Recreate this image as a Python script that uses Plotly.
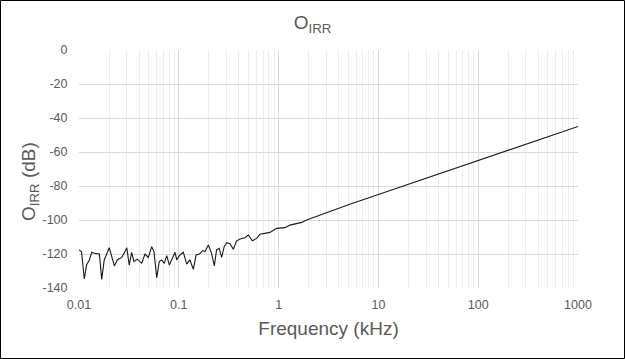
import plotly.graph_objects as go

freq_khz = [0.01, 0.0106, 0.0113, 0.0119, 0.0127, 0.0134, 0.0142, 0.0150, 0.0160, 0.0169,
            0.0179, 0.0201, 0.0226, 0.0242, 0.0268, 0.0289, 0.0301, 0.0319, 0.0337, 0.0355,
            0.0384, 0.0425, 0.0458, 0.0495, 0.0535, 0.0564, 0.0601, 0.0637, 0.0673, 0.0716,
            0.0757, 0.0804, 0.0850, 0.0917, 0.0953, 0.1013, 0.111, 0.120, 0.129, 0.140,
            0.149, 0.161, 0.174, 0.183, 0.198, 0.213, 0.227, 0.239, 0.254, 0.269,
            0.285, 0.302, 0.326, 0.352, 0.378, 0.410, 0.461, 0.498, 0.546, 0.604,
            0.651, 0.730, 0.818, 0.957, 1.16, 1.30, 1.46, 1.70, 1.91, 2.9, 5, 10, 20, 50,
            100, 200, 500, 1000]
oirr_db = [-117.6, -118.6, -134.7, -126.5, -123.5, -119.0, -119.6, -119.6, -120.0, -134.9,
           -123.5, -116.3, -127.0, -123.5, -122.0, -118.6, -116.3, -126.5, -119.0, -124.5,
           -123.0, -125.5, -120.0, -122.0, -115.7, -118.6, -134.0, -124.5, -123.5, -125.5,
           -121.0, -126.5, -123.5, -119.0, -123.5, -121.0, -119.0, -126.0, -123.5, -129.0,
           -120.6, -120.0, -118.0, -118.6, -114.7, -119.6, -127.0, -117.6, -116.7, -122.0,
           -115.7, -113.3, -114.0, -117.2, -112.4, -111.2, -110.4, -108.8, -112.2, -110.8,
           -108.4, -107.8, -107.3, -104.9, -104.5, -103.0, -102.4, -101.4, -100.0, -96.0,
           -91.0, -85.0, -79.0, -71.0, -65.0, -59.0, -51.0, -45.0]

x_tickvals = [0.01, 0.1, 1, 10, 100, 1000]
x_ticktext = ["0.01", "0.1", "1", "10", "100", "1000"]
y_tickvals = [0, -20, -40, -60, -80, -100, -120, -140]
y_ticktext = ["0", "-20", "-40", "-60", "-80", "-100", "-120", "-140"]

W, H = 625, 359
L, R, T, B = 79, 47, 50, 71
pw, ph = W - L - R, H - T - B

text_color = "#595959"
font = "Liberation Sans, Arial, sans-serif"

fig = go.Figure()
fig.add_trace(go.Scatter(x=freq_khz, y=oirr_db, mode="lines",
                         line=dict(color="#1a1a1a", width=1.1), showlegend=False))

fig.update_layout(
    width=W, height=H,
    margin=dict(l=L, r=R, t=T, b=B),
    paper_bgcolor="white", plot_bgcolor="white",
    font=dict(family=font, color=text_color, size=12),
    title=dict(text="O<sub>IRR</sub>", x=0.5, xanchor="center", y=1 - 22 / H, yanchor="middle",
               font=dict(size=19, color=text_color, family=font)),
    xaxis=dict(type="log", range=[-2, 3], tickvals=x_tickvals, ticktext=x_ticktext,
               showgrid=True, gridcolor="#d9d9d9", gridwidth=1, zeroline=False,
               showline=False, ticks="outside", ticklen=5, tickcolor="rgba(0,0,0,0)",
               minor=dict(dtick="D1", showgrid=True, gridcolor="#ececec", gridwidth=1, ticks=""),
               title=dict(text="Frequency (kHz)", font=dict(size=19, color=text_color), standoff=10),
               tickfont=dict(size=12.5, color=text_color)),
    yaxis=dict(range=[-140, 0], tickvals=y_tickvals, ticktext=y_ticktext, showgrid=True,
               gridcolor="#d9d9d9", zeroline=False, showline=False,
               ticks="outside", ticklen=8, tickcolor="rgba(0,0,0,0)",
               tickfont=dict(size=12.5, color=text_color)),
    annotations=[dict(text="O<sub>IRR</sub> (dB)", textangle=-90, xref="paper", yref="paper",
                      x=-(L - 30) / pw, y=(H - B - 182) / ph, xanchor="center", yanchor="middle",
                      showarrow=False, font=dict(size=19, color=text_color, family=font))],
    shapes=[dict(type="rect", xref="paper", yref="paper",
                 x0=-(L - 0.5) / pw, x1=1 + (R - 0.5) / pw,
                 y0=-(B - 0.5) / ph, y1=1 + (T - 0.5) / ph,
                 line=dict(color="black", width=1), fillcolor="rgba(0,0,0,0)", layer="above")],
)

fig.write_html("out.html", post_script="document.body.style.margin='0';",
               config={"displayModeBar": False})
